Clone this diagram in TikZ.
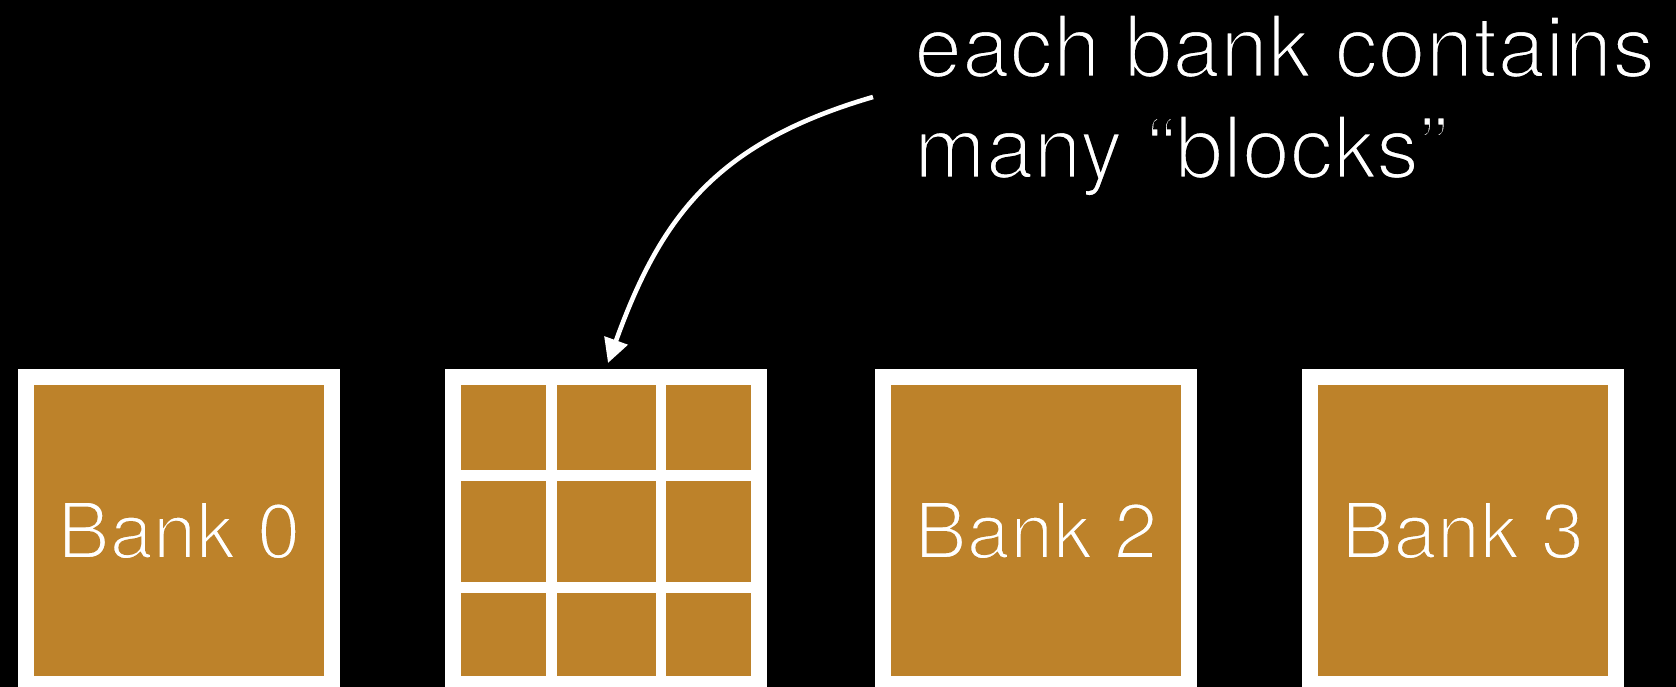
\documentclass[tikz,border=0pt]{standalone}
\usepackage{fontspec}
\setmainfont{TeX Gyre Heros}
\usetikzlibrary{arrows.meta,calc}
\definecolor{bankfill}{RGB}{189,130,42}
% light-weight lettering: fill the glyphs, then stroke their outlines
% in the surrounding colour so the strokes come out thinner
\newcommand\lighttext[3]{%
  \special{pdf:literal direct 2 Tr #1 w #2 RG}#3\special{pdf:literal direct 0 Tr}}
\begin{document}
\begin{tikzpicture}[x=1pt,y=-1pt,
  bank/.style={draw=white, line width=16pt, fill=bankfill, inner sep=0pt,
    minimum width=306pt, minimum height=307pt, text=white,
    font=\fontsize{78}{90}\selectfont},
  divider/.style={white, line width=#1},
  title/.style={anchor=base west, inner sep=0pt, text=white,
    font=\fontsize{86}{101}\selectfont},
  pointer/.style={white, line width=4.6pt, -{Triangle[length=24pt,width=24pt]}}]
  % page and background
  \useasboundingbox (0,0) rectangle (1676,687);
  \fill[black] (0,0) rectangle (1676,687);
  \clip (0,0) rectangle (1676,687);

  % the four banks
  \node[bank] (bank0) at (179,530.5) {\lighttext{2.6}{0.741 0.510 0.165}{Bank 0}};
  \node[bank] (bank1) at (606,530.5) {};
  \node[bank] (bank2) at (1036,530.5) {\lighttext{2.6}{0.741 0.510 0.165}{Bank 2}};
  \node[bank] (bank3) at (1462.75,530.5) {\lighttext{2.6}{0.741 0.510 0.165}{Bank 3}};

  % bank 1 split into a 3x3 grid of blocks
  \draw[divider=10.7pt] (551.3,0 |- bank1.north) -- (551.3,0 |- bank1.south);
  \draw[divider=10.2pt] (660.7,0 |- bank1.north) -- (660.7,0 |- bank1.south);
  \draw[divider=11pt] (bank1.west |- 0,475.8) -- (bank1.east |- 0,475.8);
  \draw[divider=11pt] (bank1.west |- 0,587.8) -- (bank1.east |- 0,587.8);

  % caption
  \node[title] (line1) at (914,77) {\lighttext{2.8}{0 0 0}{each bank contains}};
  \node[title] (line2) at (914,178) {\lighttext{2.8}{0 0 0}{many “blocks”}};

  % pointer from the caption into bank 1
  \coordinate (from) at (873,97);
  \draw[pointer] (from) .. controls (719,142) and (662,213) .. ($(bank1.north)+(2,-6)$);
\end{tikzpicture}
\end{document}
